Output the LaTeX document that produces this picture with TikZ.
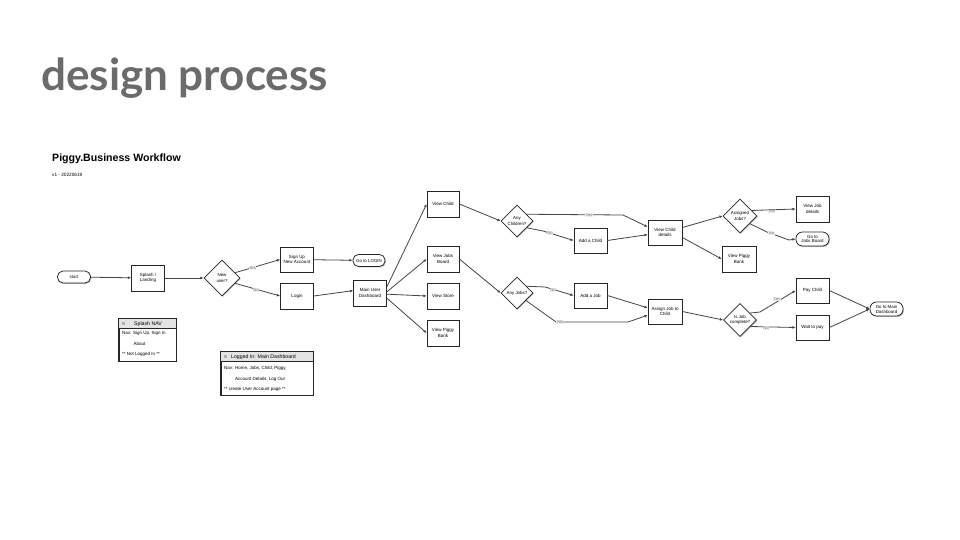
\documentclass[tikz,border=0pt]{standalone}
\usepackage{fontspec}
\setmainfont{Liberation Sans}
\newfontfamily\latofont{Lato}
\usetikzlibrary{shapes.geometric,arrows.meta,shadows}
\definecolor{titlegray}{HTML}{6B6B6B}
\definecolor{edgegray}{HTML}{454545}
\definecolor{lblgray}{HTML}{7A7A7A}
\definecolor{hdrgray}{HTML}{E3E3E3}
\tikzset{
  shd/.style={drop shadow={shadow xshift=0.9pt,shadow yshift=-0.9pt,opacity=0.28,fill=black}},
  box/.style={draw=black!85,line width=0.75pt,fill=white,minimum width=33pt,minimum height=26pt,
    inner sep=1pt,align=center,font=\fontsize{4.5}{5.5}\selectfont,shd},
  term/.style={draw=black!85,line width=0.75pt,fill=white,rounded corners=5.5pt,minimum width=33pt,
    minimum height=12pt,inner sep=0.8pt,align=center,font=\fontsize{4.4}{4.9}\selectfont,shd},
  dia/.style={draw=black!85,line width=0.75pt,fill=white,diamond,aspect=1,minimum width=34pt,
    minimum height=34pt,inner sep=0pt,align=center,font=\fontsize{4.4}{5.3}\selectfont,shd},
  edge/.style={draw=edgegray,line width=0.8pt,-{Latex[length=3.2pt,width=2.8pt]}},
  lbl/.style={fill=black!8,text=lblgray,inner sep=0.5pt,font=\fontsize{4.2}{4.6}\selectfont},
  notebox/.style={draw=black!85,line width=0.75pt,fill=white,shd,inner sep=0pt},
  notetxt/.style={anchor=west,inner sep=0pt,font=\fontsize{4.5}{5}\selectfont},
  notehdr/.style={inner sep=0pt,font=\fontsize{5.2}{6}\selectfont},
}
\begin{document}
\begin{tikzpicture}[x=1pt,y=-1pt]
\useasboundingbox (0,0) rectangle (960,540);
\fill[white] (0,0) rectangle (960,540);

% Slide title
\node[anchor=base west,inner sep=0pt,text=titlegray,font=\latofont\bfseries\fontsize{44}{50}\selectfont] (title) at (41,91) {design process};

% Diagram title
\node[anchor=base west,inner sep=0pt,font=\bfseries\fontsize{10.6}{12}\selectfont] (wf) at (52,162) {Piggy.Business Workflow};
\node[anchor=base west,inner sep=0pt,font=\fontsize{4.7}{5.5}\selectfont] (ver) at (52,176) {v1 - 20220619};

% Nodes
\node[term] (start) at (74,277) {start};
\node[box] (splash) at (148,278) {Splash /\\Landing};
\node[dia,minimum width=36pt,minimum height=36pt] (nu) at (222,278) {New\\user?};
\node[box,minimum height=25pt] (signup) at (297,259.5) {Sign Up\\New Account};
\node[box] (login) at (297,296) {Login};
\node[term,minimum width=32pt] (gologin) at (369,260.5) {Go to LOGIN};
\node[box] (dash) at (370,293) {Main User\\Dashboard};
\node[box,minimum width=32pt] (vchild) at (443,204) {View Child};
\node[box,minimum width=32pt] (vjobs) at (443,259) {View Jobs\\Board};
\node[box,minimum width=32pt] (vstore) at (443,296) {View Store};
\node[box,minimum width=32pt] (vpiggy) at (443,333) {View Piggy\\Bank};
\node[dia,minimum width=32pt,minimum height=32pt] (ac) at (517,221) {Any\\Children?};
\node[dia,minimum width=32pt,minimum height=32pt] (aj) at (517,293) {Any Jobs?};
\node[box,minimum height=25pt] (addchild) at (590.5,240.5) {Add a Child};
\node[box,minimum height=25pt] (addjob) at (590.5,295.5) {Add a Job};
\node[box,minimum width=34pt,minimum height=25pt] (vcd) at (665,232.5) {View Child\\details};
\node[box,minimum width=34pt,minimum height=25pt] (assign) at (665,311.5) {Assign Job to\\Child};
\node[dia,minimum width=34pt,minimum height=34pt] (asj) at (740,216) {Assigned\\Jobs?};
\node[box,minimum width=34pt] (vpb2) at (739,259) {View Piggy\\Bank};
\node[box] (vjd) at (812.5,209) {View Job\\details};
\node[term,minimum height=14pt,rounded corners=6.5pt] (gjb) at (812.5,239) {Go to\\Jobs Board};
\node[dia,minimum width=33pt,minimum height=33pt] (ijc) at (740,320) {Is Job\\complete?};
\node[box,minimum height=25pt] (pay) at (812.5,290.5) {Pay Child};
\node[box,minimum height=25pt] (wait) at (812.5,327.5) {Wait to pay};
\node[term,minimum height=14pt,rounded corners=6.5pt] (gomain) at (886.5,309) {Go to Main\\Dashboard};

% Waypoints
\coordinate (ac1) at (623,215);
\coordinate (ac2) at (543,231);
\coordinate (aj1) at (545,287);
\coordinate (aj2) at (556,322);
\coordinate (aj3) at (628,322);
\coordinate (as1) at (767,232);
\coordinate (as2) at (789,240);
\coordinate (ij1) at (760,312);

% Edges
\draw[edge] (start) -- (splash);
\draw[edge] (splash) -- (nu);
\draw[edge] (nu.22) -- (signup.west);
\draw[edge] (nu.-22) -- (login.west);
\draw[edge] (signup) -- (gologin);
\draw[edge] (login.east) -- (dash.172);
\draw[edge] (dash.20) -- (vchild.west);
\draw[edge] (dash.4) -- (vjobs.west);
\draw[edge] (dash.-4) -- (vstore.west);
\draw[edge] (dash.-17) -- (vpiggy.west);
\draw[edge] (vchild.east) -- (ac.west);
\draw[edge] (vjobs.east) -- (aj.west);
\draw[edge] (ac.35) -- (ac1) -- (vcd.162);
\draw[edge] (ac.-35) -- (ac2) -- (addchild.west);
\draw[edge] (addchild.east) -- (vcd.187);
\draw[edge] (aj.35) -- (aj1) -- (addjob.west);
\draw[edge] (aj.-40) -- (aj2) -- (aj3) -- (assign.192);
\draw[edge] (addjob.east) -- (assign.168);
\draw[edge] (vcd.16) -- (asj.west);
\draw[edge] (vcd.-16) -- (vpb2.west);
\draw[edge] (asj.25) -- (vjd.west);
\draw[edge] (asj.-38) -- (as1) -- (as2) -- (gjb.west);
\draw[edge] (assign.east) -- (ijc.west);
\draw[edge] (ijc.35) -- (ij1) -- (pay.west);
\draw[edge] (ijc.-32) -- (wait.west);
\draw[edge] (pay.east) -- (gomain.west);
\draw[edge] (wait.east) -- (gomain.west);

% Edge labels
\node[lbl] (l1) at (252.5,268) {Yes};
\node[lbl] (l2) at (256,290) {No};
\node[lbl] (l3) at (589,215.5) {Yes};
\node[lbl] (l4) at (550,233) {No};
\node[lbl] (l5) at (553,290) {No};
\node[lbl] (l6) at (560,322) {Yes};
\node[lbl] (l7) at (771.5,211.5) {Yes};
\node[lbl] (l8) at (771.5,233.5) {No};
\node[lbl] (l9) at (777,299.5) {Yes};
\node[lbl] (l10) at (766,328) {No};

% Note: Splash NAV
\node[notebox,minimum width=57pt,minimum height=42pt] (snav) at (147.5,340) {};
\fill[hdrgray] (119.4,319.4) rectangle (175.6,328);
\draw[line width=0.6pt,black!85] (119,328) -- (176,328);
\draw[line width=0.75pt,black!85] (snav.north west) rectangle (snav.south east);
\fill[black!30] (121.5,321.8) rectangle (124.5,324.8);
\node[notehdr] (snavh) at (148,323.8) {Splash NAV};
\node[notetxt] (sn1) at (122,333.5) {Nav: Sign Up, Sign In};
\node[notetxt] (sn2) at (133.5,344) {About};
\node[notetxt] (sn3) at (122,354.5) {** Not Logged In **};

% Note: Logged In
\node[notebox,minimum width=92pt,minimum height=43pt] (lnav) at (267,373.5) {};
\fill[hdrgray] (221.4,352.4) rectangle (312.6,361.5);
\draw[line width=0.6pt,black!85] (221,361.5) -- (313,361.5);
\draw[line width=0.75pt,black!85] (lnav.north west) rectangle (lnav.south east);
\fill[black!30] (223.5,355.3) rectangle (226.5,358.3);
\node[notehdr,anchor=west] (lnavh) at (231,357) {Logged In: Main Dashboard};
\node[notetxt] (ln1) at (224,368.5) {Nav: Home, Jobs, Child, Piggy,};
\node[notetxt] (ln2) at (235,379) {Account Details, Log Out};
\node[notetxt] (ln3) at (224,389.5) {** create User Account page **};
\end{tikzpicture}
\end{document}
